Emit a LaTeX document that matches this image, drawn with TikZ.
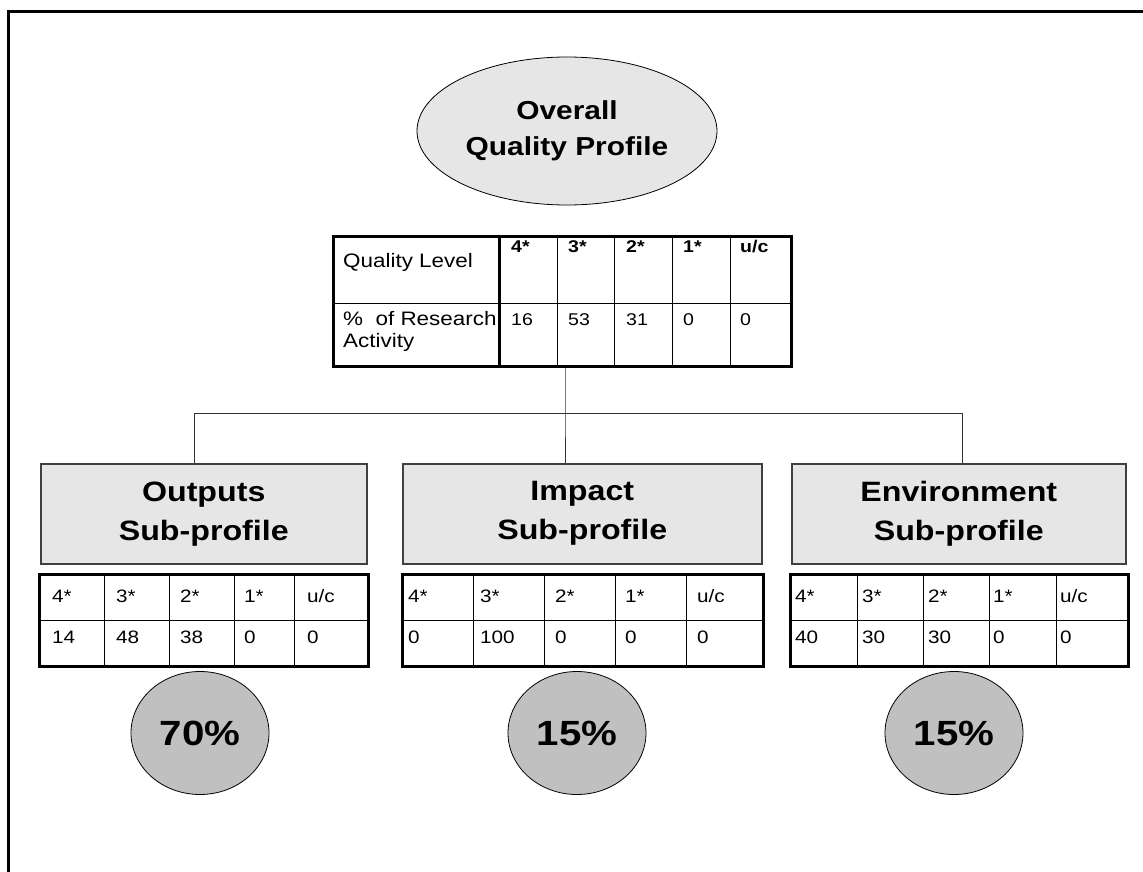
\documentclass[tikz,border=0pt]{standalone}
\usepackage{fontspec}
\setmainfont{Liberation Sans}[FakeStretch=1.15]
\usetikzlibrary{shapes.geometric,positioning}
\definecolor{boxgray}{HTML}{E6E6E6}
\definecolor{dotgray}{HTML}{C0C0C0}

\begin{document}
\begin{tikzpicture}[x=1pt,y=-1pt]
\tikzstyle{every node}+=[inner sep=0pt]
\tikzstyle{tabframe}=[draw=black, line width=3pt, anchor=north west]
\tikzstyle{rule}=[draw=black, line width=1pt]
\tikzstyle{subbox}=[draw=black!75, line width=1.5pt, fill=boxgray, anchor=north west, minimum height=100, align=center, font=\bfseries\fontsize{28}{39}\selectfont]
\tikzstyle{share}=[ellipse, draw=black, line width=0.8pt, fill=dotgray, minimum width=138, minimum height=123, font=\bfseries\fontsize{35}{35}\selectfont]
\tikzstyle{cell}=[anchor=base west, font=\fontsize{18}{18}\selectfont]
\tikzstyle{hcell}=[anchor=base west, font=\bfseries\fontsize{17}{17}\selectfont]
\tikzstyle{label}=[anchor=base west, font=\fontsize{19.5}{19.5}\selectfont]
\useasboundingbox (0,0) rectangle (1143,872);
\draw[line width=3pt] (8,874) -- (8,12) -- (1145,12);
% overall profile
\node[ellipse, draw=black, line width=0.8pt, fill=boxgray, minimum width=300, minimum height=148, align=center, font=\bfseries\fontsize{26}{36}\selectfont] (overall) at (567,131) {Overall\\Quality Profile};
\node[tabframe, minimum width=458, minimum height=130] (qtab) at (332,235) {};
\draw[line width=3pt] (499,235) -- (499,365);
\foreach \x in {557,614,672,730} \draw[rule] (\x,235) -- (\x,365);
\draw[rule] (332,303) -- (790,303);
\node[label] (qlevel) at (343,267) {Quality Level};
\node[label] (qres) at (343,325) {\%\ \ of Research};
\node[label] (qact) at (343,347) {Activity};
\foreach \x/\h/\v [count=\i] in {511/4*/16, 568/3*/53, 626/2*/31, 683/1*/0, 740/{u/c}/0} {
  \node[hcell] (qh\i) at (\x,252) {\h};
  \node[cell, font=\fontsize{17}{17}\selectfont] (qv\i) at (\x,325) {\v};
}
% connectors
\coordinate (busL) at (194,413);
\coordinate (busM) at (565,413);
\coordinate (busR) at (962,413);
% sub-profiles
\node[subbox, minimum width=326] (outbox) at (40,463) {Outputs\\Sub-profile};
\node[subbox, minimum width=359] (impbox) at (402,463) {Impact\\Sub-profile};
\node[subbox, minimum width=334] (envbox) at (791,463) {Environment\\Sub-profile};
\draw[draw=black!80] (busL) -- (busR);
\draw[draw=black!80] (busM |- qtab.south) -- (busM) -- (busM |- impbox.north);
\draw[draw=black!80] (busL) -- (busL |- outbox.north);
\draw[draw=black!80] (busR) -- (busR |- envbox.north);
% outputs table
\node[tabframe, minimum width=329, minimum height=92] (outtab) at (38,573) {};
\draw[rule] (outtab.west) -- (outtab.east);
\foreach \x in {104,169,234,294} \draw[rule] (\x,573) -- (\x,665);
\foreach \x/\h/\v [count=\i] in {52/4*/14, 116/3*/48, 180/2*/38, 244/1*/0, 307/{u/c}/0} {
  \node[cell] (outh\i) at (\x,602) {\h};
  \node[cell] (outv\i) at (\x,643) {\v};
}
% impact table
\node[tabframe, minimum width=361, minimum height=92] (imptab) at (401,573) {};
\draw[rule] (imptab.west) -- (imptab.east);
\foreach \x in {473,544,615,686} \draw[rule] (\x,573) -- (\x,665);
\foreach \x/\h/\v [count=\i] in {408/4*/0, 480/3*/100, 555/2*/0, 625/1*/0, 697/{u/c}/0} {
  \node[cell] (imph\i) at (\x,602) {\h};
  \node[cell] (impv\i) at (\x,643) {\v};
}
% environment table
\node[tabframe, minimum width=338, minimum height=92] (envtab) at (789,573) {};
\draw[rule] (envtab.west) -- (envtab.east);
\foreach \x in {857,923,989,1056} \draw[rule] (\x,573) -- (\x,665);
\foreach \x/\h/\v [count=\i] in {795/4*/40, 862/3*/30, 928/2*/30, 993/1*/0, 1060/{u/c}/0} {
  \node[cell] (envh\i) at (\x,602) {\h};
  \node[cell] (envv\i) at (\x,643) {\v};
}
% weightings
\node[share] (outpct) at (200,733) {70\%};
\node[share] (imppct) at (577,733) {15\%};
\node[share] (envpct) at (954,733) {15\%};
\end{tikzpicture}
\end{document}
